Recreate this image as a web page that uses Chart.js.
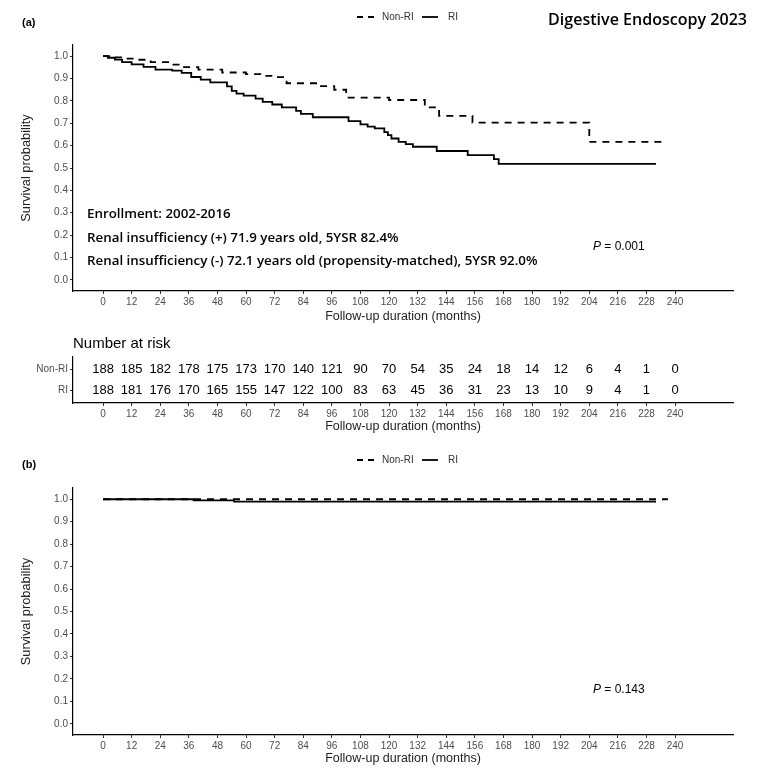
<!DOCTYPE html>
<html><head><meta charset="utf-8">
<script src="https://cdn.jsdelivr.net/npm/chart.js@4.4.1/dist/chart.umd.min.js"></script>
<style>
html,body{margin:0;padding:0;background:#fff;width:757px;height:771px;overflow:hidden}
canvas{position:absolute;left:0}
</style></head><body>
<canvas id="cA" width="757" height="330" style="top:0px"></canvas>
<canvas id="cR" width="757" height="111" style="top:330px"></canvas>
<canvas id="cB" width="757" height="330" style="top:441px"></canvas>
<script>
// ---------- data ----------
const xTicks = [0,12,24,36,48,60,72,84,96,108,120,132,144,156,168,180,192,204,216,228,240];
const yTicks = [0,0.1,0.2,0.3,0.4,0.5,0.6,0.7,0.8,0.9,1.0];
const seriesNames = ['Non-RI','RI'];

// Panel (a)
const aNonRiTime = [0,3,8,14,20,28,33,40,50,60,66,72,77,91,97,102,120,135,141,155,204,235];
const aNonRiSurv = [1.0,0.995,0.989,0.984,0.973,0.962,0.951,0.94,0.927,0.92,0.912,0.906,0.879,0.866,0.85,0.815,0.804,0.771,0.733,0.703,0.617,0.617];
const aRiTime = [0,2,5,8,12,17,22,29,33,37,41,45,52,54,56,59,64,67,71,75,81,83,88,103,108,111,114,118,119.5,121,124,127,130,140,153,164,166,232];
const aRiSurv = [1.0,0.993,0.985,0.973,0.963,0.952,0.94,0.935,0.925,0.907,0.895,0.883,0.865,0.845,0.833,0.824,0.81,0.796,0.784,0.771,0.755,0.742,0.727,0.71,0.695,0.685,0.677,0.66,0.647,0.632,0.617,0.607,0.595,0.576,0.558,0.54,0.518,0.518];

// Number at risk
const riskNonRi = [188,185,182,178,175,173,170,140,121,90,70,54,35,24,18,14,12,6,4,1,0];
const riskRi    = [188,181,176,170,165,155,147,122,100,83,63,45,36,31,23,13,10,9,4,1,0];

// Panel (b)
const bNonRiTime = [0,237];
const bNonRiSurv = [1.0,1.0];
const bRiTime = [0,38,55,232];
const bRiSurv = [1.0,0.995,0.989,0.989];

// ---------- helpers ----------
const FAM = '"Liberation Sans", Arial, sans-serif';
const XMIN = -12.6, XMAX = 264.3;
const DASH = [7,6];
const LW = 1.8;

function pts(t, s){ return t.map((v,i)=>({x:v, y:s[i]})); }
function txt(ctx, s, x, y, font, color, align){
  ctx.save(); ctx.font=font; ctx.fillStyle=color; ctx.textAlign=align||'left'; ctx.textBaseline='middle';
  ctx.fillText(s,x,y); ctx.restore();
}
function fitSize(ctx, text, target, weight, family){
  ctx.save(); ctx.font = weight+' 20px '+family; const w = ctx.measureText(text).width; ctx.restore();
  return 20*target/w;
}
function drawLegend(ctx, y){
  ctx.save();
  ctx.strokeStyle='#000'; ctx.lineWidth=LW;
  ctx.setLineDash([6,5]);
  ctx.beginPath(); ctx.moveTo(357,y); ctx.lineTo(376,y); ctx.stroke();
  ctx.setLineDash([]);
  ctx.beginPath(); ctx.moveTo(422,y); ctx.lineTo(438,y); ctx.stroke();
  ctx.restore();
  txt(ctx, seriesNames[0], 382, y, '10px '+FAM, '#333');
  txt(ctx, seriesNames[1], 448, y, '10px '+FAM, '#333');
}
function drawP(ctx, x, y, val){
  ctx.save(); ctx.font='italic 12px '+FAM; const w=ctx.measureText('P').width; ctx.restore();
  txt(ctx, 'P', x, y, 'italic 12px '+FAM, '#000');
  txt(ctx, ' = '+val, x+w, y, '12px '+FAM, '#000');
}

function xScale(h, titlePadBottom){
  return {
    type:'linear', min:XMIN, max:XMAX,
    afterBuildTicks: s=>{ s.ticks = xTicks.map(v=>({value:v})); },
    afterFit: s=>{ s.height = h; },
    ticks:{autoSkip:false, maxRotation:0, padding:2, color:'#4d4d4d', font:{family:FAM, size:10}, callback:v=>String(v)},
    grid:{drawOnChartArea:false, drawTicks:true, tickLength:3, color:'#333', tickWidth:1},
    border:{display:true, color:'#000', width:1.2},
    title:{display:true, text:'Follow-up duration (months)', color:'#222', font:{family:FAM, size:12.5}, padding:{top:0, bottom:titlePadBottom}}
  };
}
function ySurv(){
  return {
    type:'linear', min:-0.05, max:1.05,
    afterBuildTicks: s=>{ s.ticks = yTicks.map(v=>({value:v})); },
    afterFit: s=>{ s.width = 73; },
    ticks:{padding:2, color:'#4d4d4d', font:{family:FAM, size:10}, callback:v=>Number(v).toFixed(1)},
    grid:{drawOnChartArea:false, drawTicks:true, tickLength:3, color:'#333', tickWidth:1},
    border:{display:true, color:'#000', width:1.2},
    title:{display:true, text:'Survival probability', color:'#222', font:{family:FAM, size:12.8}, padding:{top:19, bottom:0}}
  };
}
function survDatasets(t1,s1,t2,s2){
  return [
    {label:seriesNames[0], data:pts(t1,s1), stepped:true, borderColor:'#000', borderWidth:LW, borderDash:DASH, pointRadius:0, fill:false},
    {label:seriesNames[1], data:pts(t2,s2), stepped:true, borderColor:'#000', borderWidth:LW, pointRadius:0, fill:false}
  ];
}
const baseOpts = (padTop) => ({
  responsive:false, animation:false,
  layout:{padding:{left:0, right:24, top:padTop, bottom:0}},
  plugins:{legend:{display:false}, tooltip:{enabled:false}, title:{display:false}},
  elements:{point:{radius:0}, line:{tension:0}}
});

// ---------- panel (a) ----------
const annA = {
  id:'annA',
  afterDraw(chart){
    const ctx = chart.ctx;
    txt(ctx, '(a)', 22, 23, 'bold 11px '+FAM, '#000');
    drawLegend(ctx, 17);
    const tFam='"Open Sans", "Noto Sans", sans-serif';
    const tTitle='Digestive Endoscopy 2023';
    const ts = fitSize(ctx, tTitle, 199, 600, tFam);
    txt(ctx, tTitle, 747, 20, '600 '+ts+'px '+tFam, '#000', 'right');
    const l3='Renal insufficiency (-) 72.1 years old (propensity-matched), 5YSR 92.0%';
    const as = fitSize(ctx, l3, 451, 600, tFam);
    const af = '600 '+as+'px '+tFam;
    txt(ctx, 'Enrollment: 2002-2016', 87, 214, af, '#000');
    txt(ctx, 'Renal insufficiency (+) 71.9 years old, 5YSR 82.4%', 87, 238, af, '#000');
    txt(ctx, l3, 87, 261, af, '#000');
    drawP(ctx, 593, 247, '0.001');
  }
};
new Chart(document.getElementById('cA'), {
  type:'line',
  data:{datasets:survDatasets(aNonRiTime,aNonRiSurv,aRiTime,aRiSurv)},
  options:Object.assign(baseOpts(45), {scales:{x:xScale(39,6), y:ySurv()}}),
  plugins:[annA]
});

// ---------- number at risk ----------
const riskPlug = {
  id:'riskPlug',
  afterDatasetsDraw(chart){
    const ctx = chart.ctx;
    chart.data.datasets.forEach((ds,di)=>{
      const meta = chart.getDatasetMeta(di);
      meta.data.forEach((el,i)=>{ txt(ctx, String(ds.data[i].n), el.x, el.y, '13px '+FAM, '#000', 'center'); });
    });
  },
  afterDraw(chart){
    txt(chart.ctx, 'Number at risk', 73, 14, '15px '+FAM, '#000');
  }
};
new Chart(document.getElementById('cR'), {
  type:'scatter',
  data:{datasets:[
    {label:seriesNames[0], data:riskNonRi.map((n,i)=>({x:xTicks[i], y:2, n})), pointRadius:0, showLine:false},
    {label:seriesNames[1], data:riskRi.map((n,i)=>({x:xTicks[i], y:1, n})), pointRadius:0, showLine:false}
  ]},
  options:Object.assign(baseOpts(27), {scales:{
    x:xScale(38,7),
    y:{
      type:'linear', min:0.4, max:2.6,
      afterBuildTicks: s=>{ s.ticks = [{value:1},{value:2}]; },
      afterFit: s=>{ s.width = 73; },
      ticks:{padding:2, color:'#4d4d4d', font:{family:FAM, size:10}, callback:v=> v===2 ? seriesNames[0] : seriesNames[1]},
      grid:{drawOnChartArea:false, drawTicks:true, tickLength:3, color:'#333', tickWidth:1},
      border:{display:true, color:'#000', width:1.2}
    }
  }}),
  plugins:[riskPlug]
});

// ---------- panel (b) ----------
const annB = {
  id:'annB',
  afterDraw(chart){
    const ctx = chart.ctx;
    txt(ctx, '(b)', 22, 24, 'bold 11px '+FAM, '#000');
    drawLegend(ctx, 19);
    drawP(ctx, 593, 249, '0.143');
  }
};
new Chart(document.getElementById('cB'), {
  type:'line',
  data:{datasets:survDatasets(bNonRiTime,bNonRiSurv,bRiTime,bRiSurv)},
  options:Object.assign(baseOpts(47), {scales:{x:xScale(36,5), y:ySurv()}}),
  plugins:[annB]
});
</script>
</body></html>
